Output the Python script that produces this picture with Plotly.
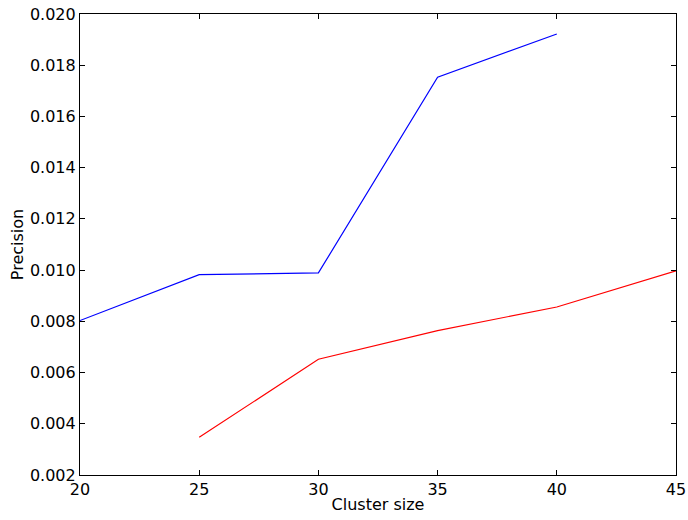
import plotly.graph_objects as go

cluster_size = [20, 25, 30, 35, 40, 45]
blue_precision = [0.00803, 0.00982, 0.00989, 0.01753, 0.01922, None]
red_precision = [None, 0.00347, 0.00652, 0.00764, 0.00856, 0.00997]

fig = go.Figure()
fig.add_trace(go.Scatter(x=cluster_size, y=blue_precision, mode="lines",
                         line=dict(color="#0000ff", width=1.2), connectgaps=False))
fig.add_trace(go.Scatter(x=cluster_size, y=red_precision, mode="lines",
                         line=dict(color="#ff0000", width=1.2), connectgaps=False))

font = dict(family="DejaVu Sans", size=16, color="black")
axis_common = dict(
    showgrid=False, zeroline=False, showline=True, linecolor="black", linewidth=1.2,
    mirror="ticks", ticks="inside", ticklen=5, tickcolor="black", tickwidth=1,
    tickfont=font, automargin=False,
)
fig.update_layout(
    width=688, height=520,
    margin=dict(l=80, r=12, t=14, b=45),
    paper_bgcolor="white", plot_bgcolor="white",
    showlegend=False,
    xaxis=dict(range=[20, 45], tickvals=[20, 25, 30, 35, 40, 45],
               title=dict(text="Cluster size", font=font, standoff=0),
               **axis_common),
    yaxis=dict(range=[0.002, 0.020], tickvals=[0.002, 0.004, 0.006, 0.008, 0.010, 0.012, 0.014, 0.016, 0.018, 0.020],
               tickformat=".3f",
               title=dict(text="Precision", font=font, standoff=2),
               **axis_common),
)
fig.write_html("out.html", config={"displayModeBar": False},
               post_script="document.body.style.margin='0';document.body.style.overflow='hidden';")
